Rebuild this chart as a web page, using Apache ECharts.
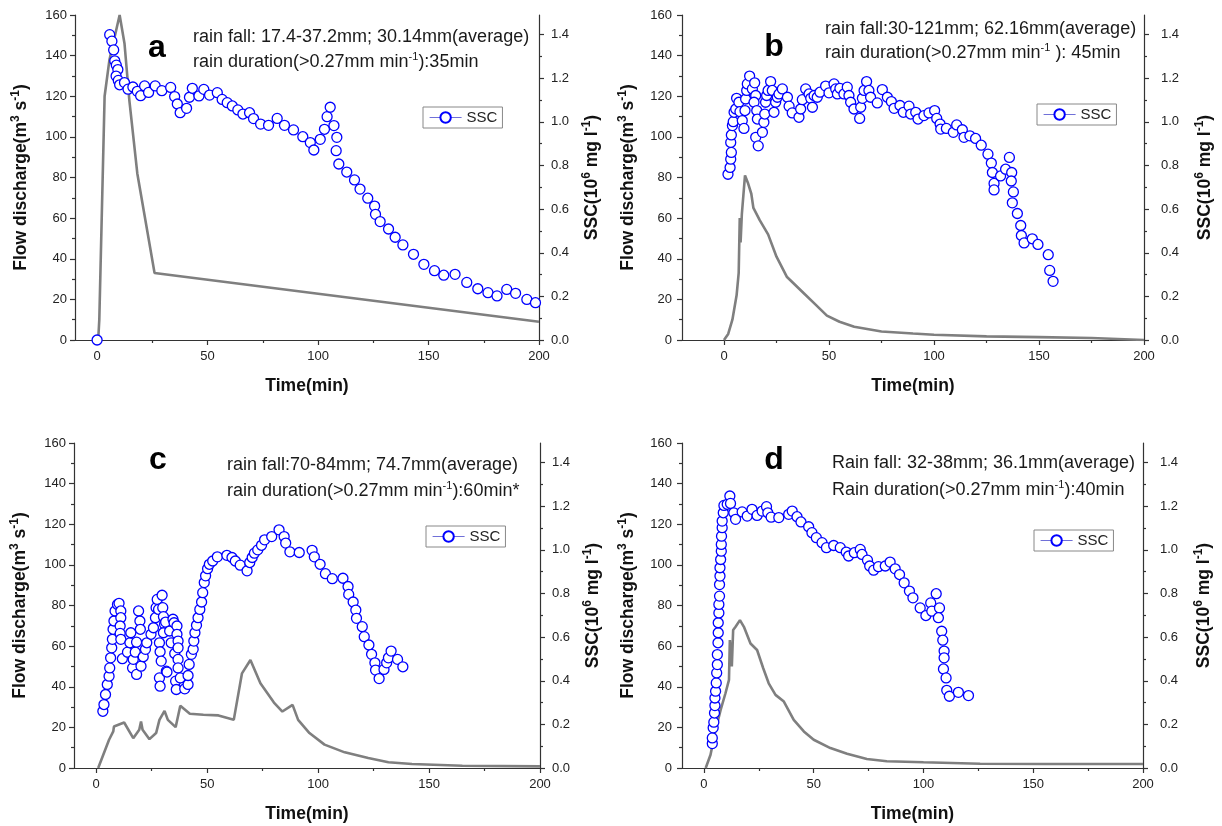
<!DOCTYPE html>
<html><head><meta charset="utf-8">
<script src="https://cdn.jsdelivr.net/npm/echarts@6/dist/echarts.min.js"></script>
<style>html,body{margin:0;padding:0;background:#fff}#c{width:1222px;height:826px}</style>
</head><body><div id="c"></div>
<script>
// ---------- tick labels ----------
const xTicks = [0, 50, 100, 150, 200];
const xMinorTicks = [25, 75, 125, 175];
const flowTicks = [0, 20, 40, 60, 80, 100, 120, 140, 160];
const flowMinorTicks = [10, 30, 50, 70, 90, 110, 130, 150];
const sscTicks = [0, 0.2, 0.4, 0.6, 0.8, 1.0, 1.2, 1.4];
const sscMinorTicks = [0.1, 0.3, 0.5, 0.7, 0.9, 1.1, 1.3];

// ---------- texts ----------
const panelLetters = ['a', 'b', 'c', 'd'];
const rainFallText = [
  'rain fall: 17.4-37.2mm; 30.14mm(average)',
  'rain fall:30-121mm; 62.16mm(average)',
  'rain fall:70-84mm; 74.7mm(average)',
  'Rain fall: 32-38mm; 36.1mm(average)'
];
const rainDurationText = [
  ['rain duration(>0.27mm min', '-1', '):35min'],
  ['rain duration(>0.27mm min', '-1', ' ): 45min'],
  ['rain duration(>0.27mm min', '-1', '):60min*'],
  ['Rain duration(>0.27mm min', '-1', '):40min']
];

// ---------- data: [time (min), value] ----------
const flowA = [[0.5,0],[1,10],[3.4,120],[5.6,138],[10.2,160],[12.4,146],[14.6,118],[18.2,82],[26,33],[200,9]];
const sscA = [[0,0],[5.7,1.40],[6.7,1.37],[7.5,1.33],[8.0,1.28],[8.7,1.26],[9.4,1.24],[8.6,1.21],[9.6,1.19],[10.2,1.17],[12.4,1.18],[14,1.15],[16.2,1.16],[18.2,1.14],[19.7,1.12],[21.5,1.165],[23.3,1.135],[26.3,1.165],[29.3,1.143],[33.3,1.158],[35.1,1.116],[36.3,1.082],[37.6,1.042],[40.5,1.062],[41.8,1.113],[43.1,1.154],[46.1,1.119],[48.3,1.149],[50.9,1.123],[54.4,1.134],[56.6,1.103],[58.9,1.088],[61.2,1.073],[63.7,1.055],[66,1.036],[69,1.042],[70.8,1.015],[74,0.99],[77.6,0.984],[81.5,1.016],[84.8,0.984],[88.9,0.963],[93.1,0.932],[96.5,0.905],[98.1,0.871],[101,0.92],[102.9,0.966],[104.1,1.024],[105.5,1.067],[107.2,0.983],[108.5,0.929],[108.2,0.868],[109.4,0.807],[113,0.77],[116.5,0.734],[119,0.692],[122.5,0.65],[125.6,0.614],[126,0.576],[128.1,0.543],[131.9,0.509],[134.9,0.471],[138.4,0.436],[143.2,0.393],[147.9,0.347],[152.7,0.318],[156.9,0.297],[162,0.301],[167.3,0.264],[172.3,0.235],[176.9,0.217],[181,0.202],[185.4,0.232],[189.4,0.214],[194.5,0.186],[198.4,0.171]];

const flowB = [[0,0],[2,3],[4,10],[6,22],[7,33],[7.5,60],[7.9,48],[8.5,62],[10,81],[11.5,77],[13,72],[14,65],[17,59],[21,52],[25,41],[30,31],[38,23],[43,18],[49,12],[55,9],[62,6.5],[75,4.2],[90,3.2],[100,2.6],[125,1.8],[150,1.4],[175,1],[200,0]];
const sscB = [[1.9,0.76],[2.9,0.791],[3.2,0.829],[3.5,0.86],[3.2,0.906],[3.5,0.94],[4.0,0.983],[4.4,1.001],[4.8,1.044],[5.6,1.059],[6.0,1.108],[7.1,1.09],[7.6,1.047],[8.7,1.006],[9.5,0.97],[10.0,1.052],[10.3,1.105],[10.8,1.144],[11.1,1.174],[12.2,1.21],[13.5,1.151],[14.6,1.179],[15.1,1.121],[14.3,1.09],[15.6,1.052],[15.9,1.013],[15.1,0.929],[16.3,0.89],[18.3,0.952],[19.0,0.998],[19.4,1.036],[19.8,1.09],[20.3,1.121],[21.0,1.144],[22.2,1.185],[23.0,1.144],[23.8,1.044],[24.6,1.09],[25.4,1.113],[26.2,1.128],[27.8,1.151],[30.2,1.113],[31.0,1.072],[32.5,1.041],[35.7,1.021],[36.5,1.059],[37.3,1.102],[38.9,1.151],[40.5,1.128],[41.3,1.108],[42.1,1.067],[42.9,1.121],[44.4,1.113],[45.7,1.136],[48.4,1.164],[50.0,1.133],[52.4,1.174],[53.2,1.151],[54.0,1.128],[55.2,1.154],[57.1,1.128],[58.7,1.159],[59.5,1.121],[60.3,1.09],[61.9,1.059],[64.6,1.016],[65.1,1.067],[65.9,1.108],[66.7,1.144],[67.9,1.185],[69.0,1.144],[69.8,1.113],[73.0,1.087],[75.4,1.148],[77.8,1.113],[79.7,1.093],[81.0,1.062],[83.8,1.075],[85.4,1.044],[88.1,1.072],[88.9,1.036],[91.3,1.044],[92.4,1.013],[95.2,1.029],[97.6,1.041],[100.3,1.052],[101.3,1.016],[102.9,0.99],[103.2,0.967],[105.9,0.97],[109.2,0.952],[110.8,0.986],[113.5,0.964],[114.3,0.929],[117.1,0.936],[119.8,0.924],[122.5,0.893],[125.7,0.852],[127.3,0.811],[127.8,0.768],[128.6,0.718],[128.6,0.688],[131.7,0.752],[134.1,0.783],[135.9,0.837],[137.0,0.768],[136.8,0.729],[137.8,0.679],[137.3,0.629],[139.7,0.58],[141.3,0.525],[141.6,0.479],[142.9,0.445],[146.8,0.464],[149.5,0.438],[154.4,0.391],[155.1,0.319],[156.7,0.269]];

const flowC = [[0.9,0],[5.8,13.9],[7.7,18],[8.0,20.4],[12.6,22.4],[16.7,14.7],[19.4,18.8],[20.2,22.9],[20.9,18.8],[24.0,14.2],[27.0,17.2],[28.5,23.7],[30.8,28.1],[32.3,23.7],[35.8,20.1],[37.9,30.6],[42.2,26.7],[48.3,26.2],[55.1,25.9],[62.0,23.7],[65.7,46.6],[69.5,53.2],[74.0,41.7],[80.1,32.2],[83.9,27.8],[88.5,31.1],[91.0,23.7],[96.1,17.2],[102.9,11.5],[112,7.7],[122.6,4.9],[131.7,2.8],[142.3,2.0],[165,1.1],[200,0.8]];
const sscC = [[3.0,0.26],[3.5,0.291],[4.2,0.337],[5.0,0.383],[5.8,0.421],[6.1,0.459],[6.5,0.505],[7.0,0.551],[7.3,0.59],[7.6,0.636],[8.0,0.674],[8.5,0.72],[9.6,0.75],[10.3,0.755],[11.1,0.72],[11.1,0.689],[10.8,0.651],[10.8,0.617],[11.1,0.59],[11.8,0.501],[14.1,0.531],[15.2,0.574],[15.6,0.62],[16.4,0.459],[16.7,0.498],[17.6,0.531],[18.2,0.429],[18.2,0.577],[19.1,0.72],[19.7,0.674],[19.9,0.636],[20.2,0.467],[21.2,0.51],[22.2,0.544],[22.8,0.574],[24.7,0.613],[25.8,0.643],[26.7,0.689],[27.0,0.735],[27.5,0.773],[28.1,0.727],[28.5,0.574],[28.8,0.533],[28.5,0.413],[28.8,0.375],[29.3,0.49],[29.7,0.792],[30.0,0.735],[30.3,0.694],[30.8,0.659],[30.3,0.62],[31.3,0.669],[31.6,0.444],[31.9,0.44],[33.1,0.628],[33.8,0.574],[34.6,0.682],[35.1,0.666],[35.4,0.525],[35.8,0.398],[36.1,0.36],[36.4,0.651],[36.4,0.613],[36.9,0.582],[36.9,0.551],[36.9,0.498],[36.9,0.459],[37.9,0.413],[39.9,0.363],[41.4,0.383],[41.4,0.424],[41.9,0.475],[42.9,0.521],[43.7,0.544],[44.0,0.582],[44.5,0.62],[45.2,0.654],[45.9,0.689],[46.7,0.727],[47.5,0.761],[48.0,0.804],[48.7,0.85],[49.3,0.881],[50.2,0.914],[51.0,0.934],[52.5,0.949],[54.6,0.968],[58.9,0.975],[61.2,0.965],[62.7,0.949],[64.9,0.93],[68.0,0.904],[69.2,0.942],[70.3,0.965],[71.3,0.985],[72.8,1.0],[74.5,1.021],[75.9,1.046],[79.1,1.061],[82.4,1.092],[84.7,1.061],[85.4,1.031],[87.3,0.991],[91.5,0.988],[97.3,0.998],[98.3,0.968],[100.9,0.934],[103.3,0.891],[106.4,0.868],[111.2,0.87],[113.5,0.832],[113.8,0.796],[115.8,0.761],[117.0,0.724],[117.3,0.686],[119.9,0.648],[120.8,0.602],[122.9,0.564],[124.1,0.521],[125.6,0.482],[125.9,0.449],[127.5,0.41],[129.7,0.452],[130.9,0.482],[131.7,0.505],[132.9,0.536],[135.8,0.498],[138.2,0.464]];

const flowD = [[0.8,0],[3.0,6.5],[5.3,18.8],[7.6,28.6],[9.8,36.8],[11.4,43.4],[11.8,63.0],[12.4,63.8],[12.7,50],[13.3,67.9],[14.4,69.5],[16.4,72.8],[18.2,69.5],[21.2,61.3],[24.2,58.1],[27,49.1],[29.5,41.7],[32.6,36.0],[36.4,32.7],[40.9,23.7],[45.5,18.0],[50,13.9],[57.6,9.8],[65.2,7.0],[74.2,4.4],[83.3,3.3],[100,2.8],[125.8,2.1],[156,2.0],[200,2.0]];
const sscD = [[3.8,0.112],[3.8,0.138],[4.2,0.184],[4.5,0.21],[4.8,0.252],[5.0,0.286],[5.0,0.321],[5.3,0.352],[5.6,0.39],[5.8,0.436],[6.1,0.474],[6.1,0.52],[6.4,0.574],[6.5,0.62],[6.5,0.666],[6.8,0.711],[6.8,0.75],[7.1,0.788],[7.1,0.841],[7.3,0.88],[7.3,0.918],[7.6,0.956],[7.9,0.994],[7.9,1.025],[8.0,1.063],[8.3,1.102],[8.3,1.132],[8.8,1.17],[9.1,1.204],[10.6,1.209],[11.8,1.247],[12.1,1.213],[13.6,1.17],[14.4,1.14],[17.4,1.174],[19.7,1.155],[21.9,1.186],[24.2,1.158],[26.5,1.178],[28.5,1.198],[29.1,1.17],[30.6,1.15],[34.1,1.148],[38.6,1.163],[40.2,1.178],[42.4,1.152],[44.2,1.128],[47.7,1.106],[49.2,1.079],[51.2,1.056],[53.8,1.033],[55.8,1.01],[59.1,1.02],[62.1,1.01],[64.8,0.99],[65.9,0.972],[68.5,0.987],[71.2,1.002],[72.0,0.979],[74.5,0.953],[75.5,0.926],[77.3,0.907],[79.5,0.923],[82.6,0.926],[84.8,0.944],[87.1,0.913],[89.1,0.887],[91.2,0.849],[93.6,0.811],[95.2,0.78],[98.5,0.734],[101.1,0.699],[103.3,0.757],[103.8,0.719],[105.8,0.799],[107.3,0.734],[106.8,0.689],[108.3,0.627],[108.8,0.586],[109.4,0.536],[109.4,0.505],[109.1,0.454],[110.3,0.413],[110.6,0.356],[111.8,0.329],[115.9,0.347],[120.5,0.332]];

const flowData = [flowA, flowB, flowC, flowD];
const sscData = [sscA, sscB, sscC, sscD];

// ---------- layout ----------
const FONT = '"Liberation Sans", Arial, sans-serif';
const panels = [
  {grid:{left:75, top:15, width:464, height:325}, xMin:-10, leftGap:43, leftMargin:8, rightGap:42, rightMargin:12,
   letter:[157,48], text:[193,37,62], legend:[423,107]},
  {grid:{left:682, top:15, width:462, height:325}, xMin:-20, leftGap:43, leftMargin:10, rightGap:50, rightMargin:17,
   letter:[774,47], text:[825,29,53], legend:[1037,104]},
  {grid:{left:74, top:443, width:466, height:325}, xMin:-10, leftGap:43, leftMargin:8, rightGap:42, rightMargin:12,
   letter:[158,460], text:[227,465,491], legend:[426,526]},
  {grid:{left:682, top:443, width:461, height:325}, xMin:-10, leftGap:43, leftMargin:10, rightGap:50, rightMargin:17,
   letter:[774,460], text:[832,463,490], legend:[1034,530]}
];

const AX = '#333';
const supRich = {
  b: {fontSize: 17.5, fontWeight: 'bold', fontFamily: FONT, color: '#111', lineHeight: 22},
  s: {fontSize: 12, fontWeight: 'bold', fontFamily: FONT, color: '#111', verticalAlign: 'top', lineHeight: 12}
};

const grids = [], xAxes = [], yAxes = [], series = [], legends = [], graphics = [];
panels.forEach((p, i) => {
  grids.push(Object.assign({containLabel: false, outerBoundsMode: 'none'}, p.grid));
  const xi = xAxes.length;
  xAxes.push({
    gridIndex: i, type: 'value', min: p.xMin, max: 200, position: 'bottom',
    axisLine: {onZero: false, lineStyle: {color: AX, width: 1.2}},
    axisTick: {customValues: xTicks, length: 5, lineStyle: {color: AX, width: 1.2}},
    axisLabel: {customValues: xTicks, color: '#222', fontSize: 13, fontFamily: FONT, margin: 10},
    splitLine: {show: false},
    name: 'Time(min)', nameLocation: 'middle', nameGap: 37,
    nameTextStyle: {fontWeight: 'bold', fontSize: 17.5, color: '#111', fontFamily: FONT}
  });
  xAxes.push({
    gridIndex: i, type: 'value', min: p.xMin, max: 200, position: 'bottom',
    axisLine: {show: false, onZero: false},
    axisTick: {customValues: xMinorTicks, length: 3, lineStyle: {color: AX, width: 1.2}},
    axisLabel: {show: false}, splitLine: {show: false}
  });
  const yi = yAxes.length;
  yAxes.push({
    gridIndex: i, type: 'value', min: 0, max: 160, position: 'left',
    axisLine: {show: true, onZero: false, lineStyle: {color: AX, width: 1.2}},
    axisTick: {show: true, customValues: flowTicks, length: 5, lineStyle: {color: AX, width: 1.2}},
    axisLabel: {customValues: flowTicks, color: '#222', fontSize: 13, fontFamily: FONT, margin: p.leftMargin},
    splitLine: {show: false},
    name: '{b|Flow discharge(m}{s|3}{b| s}{s|-1}{b|)}', nameLocation: 'middle', nameGap: p.leftGap,
    nameTextStyle: {rich: supRich}
  });
  yAxes.push({
    gridIndex: i, type: 'value', min: 0, max: 160, position: 'left',
    axisLine: {show: false, onZero: false},
    axisTick: {show: true, customValues: flowMinorTicks, length: 3, lineStyle: {color: AX, width: 1.2}},
    axisLabel: {show: false}, splitLine: {show: false}
  });
  yAxes.push({
    gridIndex: i, type: 'value', min: 0, max: 1.49, position: 'right',
    axisLine: {show: true, onZero: false, lineStyle: {color: AX, width: 1.2}},
    axisTick: {show: true, customValues: sscTicks, length: 5, lineStyle: {color: AX, width: 1.2}},
    axisLabel: {customValues: sscTicks, color: '#222', fontSize: 13, fontFamily: FONT, margin: p.rightMargin,
                formatter: v => v.toFixed(1)},
    splitLine: {show: false},
    name: '{b|SSC(10}{s|6}{b| mg l}{s|-1}{b|)}', nameLocation: 'middle', nameGap: p.rightGap,
    nameTextStyle: {rich: supRich}
  });
  yAxes.push({
    gridIndex: i, type: 'value', min: 0, max: 1.49, position: 'right',
    axisLine: {show: false, onZero: false},
    axisTick: {show: true, customValues: sscMinorTicks, length: 3, lineStyle: {color: AX, width: 1.2}},
    axisLabel: {show: false}, splitLine: {show: false}
  });
  series.push({
    type: 'line', name: 'Flow', xAxisIndex: xi, yAxisIndex: yi, data: flowData[i],
    symbol: 'none', lineStyle: {color: '#7f7f7f', width: 2.6}, itemStyle: {color: '#7f7f7f'},
    animation: false, z: 2
  });
  series.push({
    type: 'line', name: 'SSC', xAxisIndex: xi, yAxisIndex: yi + 2, data: sscData[i],
    symbol: 'circle', symbolSize: 10, showSymbol: true, showAllSymbol: true,
    lineStyle: {opacity: 0, width: 1, color: '#7070d8'},
    itemStyle: {color: '#ffffff', borderColor: '#0000ff', borderWidth: 1.3},
    animation: false, z: 3
  });
  legends.push({
    data: ['SSC'], left: p.legend[0], top: p.legend[1], selectedMode: false,
    padding: [3, 5, 3, 6], borderColor: '#888', borderWidth: 1, backgroundColor: '#fff',
    itemWidth: 32, itemHeight: 13, itemGap: 0,
    textStyle: {fontSize: 15, color: '#222', fontFamily: FONT},
    lineStyle: {color: '#7070d8', width: 1.2, opacity: 1}
  });
  graphics.push({
    type: 'text', x: p.letter[0], y: p.letter[1],
    style: {text: panelLetters[i], font: 'bold 32px ' + FONT, fill: '#000', align: 'center', verticalAlign: 'middle'}
  });
  graphics.push({
    type: 'text', x: p.text[0], y: p.text[1],
    style: {text: rainFallText[i], font: '18px ' + FONT, fill: '#1a1a1a', align: 'left', verticalAlign: 'middle'}
  });
  const d = rainDurationText[i];
  graphics.push({
    type: 'text', x: p.text[0], y: p.text[2],
    style: {
      text: '{n|' + d[0] + '}{s|' + d[1] + '}{n|' + d[2] + '}',
      align: 'left', verticalAlign: 'middle',
      rich: {
        n: {fontSize: 18, fontFamily: FONT, fill: '#1a1a1a', lineHeight: 22},
        s: {fontSize: 11, fontFamily: FONT, fill: '#1a1a1a', verticalAlign: 'top', lineHeight: 12}
      }
    }
  });
});

const chart = echarts.init(document.getElementById('c'), null, {renderer: 'canvas'});
chart.setOption({
  backgroundColor: '#ffffff',
  animation: false,
  grid: grids, xAxis: xAxes, yAxis: yAxes, series: series, legend: legends, graphic: graphics
});
</script>
</body></html>
